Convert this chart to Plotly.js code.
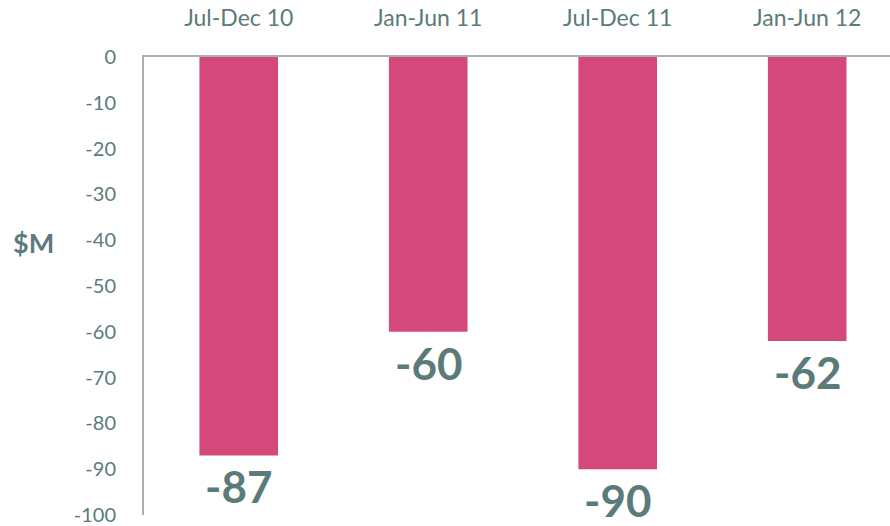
<!DOCTYPE html>
<html><head><meta charset="utf-8">
<script src="https://cdn.plot.ly/plotly-3.0.1.min.js"></script>
<style>html,body{margin:0;padding:0;background:#fff}#chart{width:890px;height:526px}</style>
</head><body><div id="chart"></div>
<script>
const categories = ["Jul-Dec 10", "Jan-Jun 11", "Jul-Dec 11", "Jan-Jun 12"];
const values = [-87, -60, -90, -62];
const yTicks = [0, -10, -20, -30, -40, -50, -60, -70, -80, -90, -100];

const grey = "#5B7B7A";
const font = "Lato, 'Open Sans', sans-serif";

const trace = {
  type: "bar",
  x: categories,
  y: values,
  marker: {color: "#D4487B"},
  width: 0.415,
  hoverinfo: "skip"
};

const annotations = categories.map((c, i) => ({
  x: c, y: values[i], xref: "x", yref: "y",
  text: String(values[i]), showarrow: false,
  yanchor: "top", yshift: -3,
  font: {family: font, size: 44, color: grey, weight: 700}
}));
annotations.push({
  xref: "paper", yref: "paper", x: -0.1475, y: 0.596,
  xanchor: "center", yanchor: "middle",
  text: "<b>$M</b>", showarrow: false,
  font: {family: font, size: 27, color: grey}
});

const layout = {
  width: 890, height: 526,
  margin: {l: 144, r: 0, t: 57, b: 11},
  paper_bgcolor: "#fff", plot_bgcolor: "#fff",
  showlegend: false,
  xaxis: {
    side: "top", type: "category",
    range: [-0.5, 3.437],
    showline: true, linecolor: "#A7B3B3", linewidth: 2,
    showgrid: false, zeroline: false, ticks: "",
    ticklabelstandoff: 20,
    tickfont: {family: font, size: 23, color: grey}
  },
  yaxis: {
    range: [-100, 0],
    tickvals: yTicks, ticktext: yTicks.map(String),
    showline: true, linecolor: "#A7B3B3", linewidth: 2,
    showgrid: false, zeroline: false, ticks: "",
    ticklabelstandoff: 22,
    tickfont: {family: font, size: 20, color: grey}
  },
  annotations: annotations
};

Plotly.newPlot("chart", [trace], layout, {displayModeBar: false, staticPlot: true});
</script></body></html>
